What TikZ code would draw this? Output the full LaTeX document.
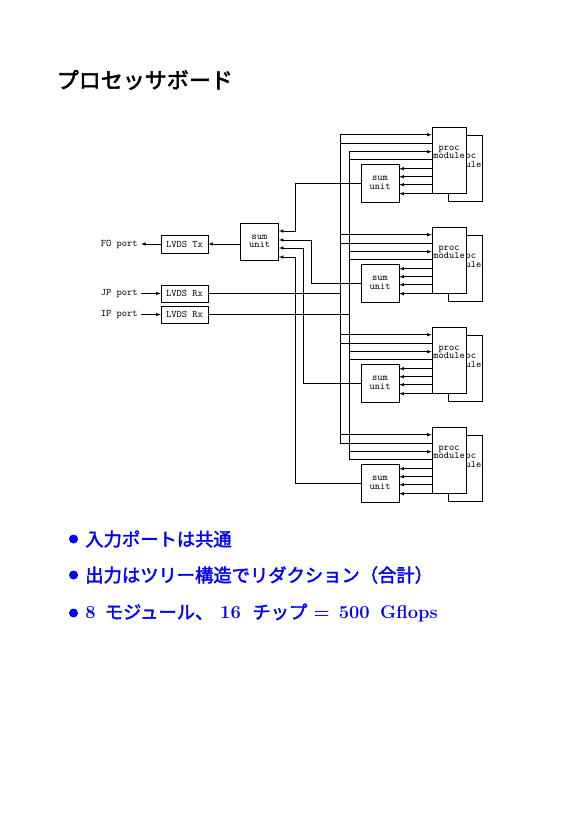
\documentclass[tikz,border=0pt]{standalone}
\usepackage{fontspec}
\usetikzlibrary{calc}
\newfontfamily\jpfont[FakeBold=2]{Noto Sans CJK JP}
\newfontfamily\jptitle[FakeBold=2.5]{Noto Sans CJK JP}
\newcommand\dgfont{\ttfamily\fontsize{10}{8.5}\selectfont}
\newcommand\lat[1]{{\normalfont\bfseries #1}}

\tikzset{
  box/.style={draw, fill=white, inner sep=0pt, align=center, font=\dgfont},
  procbox/.style={box, minimum width=34pt, minimum height=66pt},
  sumbox/.style={box, minimum width=38pt, minimum height=38pt},
  lvdsbox/.style={box, minimum width=47pt, minimum height=17pt},
  lbl/.style={inner sep=0pt, align=center, font=\dgfont},
  port/.style={inner sep=0pt, inner xsep=3pt, anchor=east, font=\dgfont},
  dot/.style={circle, fill=blue, inner sep=0pt, minimum size=9pt},
  item/.style={anchor=west, inner sep=0pt, text=blue, font=\jpfont\fontsize{18.3}{18.3}\selectfont},
}

\begin{document}
\begin{tikzpicture}[x=1pt, y=-1pt, line width=0.6pt]
	\useasboundingbox (0,0) rectangle (579,819);

	% title
	\node[anchor=west, inner sep=0pt, font=\jptitle\fontsize{22}{22}\selectfont] (title) at (56.5,80) {プロセッサボード};

	% board: central sum unit and LVDS links
	\node[sumbox, minimum height=37pt] (sc) at (259.5,241.5) {sum\\unit};
	\node[lvdsbox, minimum height=18pt] (tx) at (184.5,244) {LVDS Tx};
	\node[lvdsbox] (rxjp) at (184.5,293.5) {LVDS Rx};
	\node[lvdsbox] (rxip) at (184.5,314.5) {LVDS Rx};
	\node[port] (fo) at (141,244) {FO port};
	\node[port] (jp) at (141,293.5) {JP port};
	\node[port] (ip) at (141,314.5) {IP port};

	\draw[-latex] (sc.west |- tx.east) -- (tx.east);
	\draw[-latex] (tx.west) -- (fo.east);
	\draw[-latex] (jp.east) -- (rxjp.west);
	\draw[-latex] (ip.east) -- (rxip.west);

	% input buses
	\coordinate (busJ) at (340,135);
	\coordinate (busJend) at (340,444);
	\coordinate (busI) at (349,152);
	\coordinate (busIend) at (349,460);
	\draw (busJ) -- (busJend);
	\draw (busI) -- (busIend);
	\draw (rxjp.east) -- (rxjp.east -| busJ);
	\draw (rxip.east) -- (rxip.east -| busI);

	% processor modules, two chips each
	\foreach \i/\T in {1/127,2/227,3/327,4/427} {
		\node[procbox] (q\i) at (465.5,\T+41.5) {};
		\node[lbl] (ql\i) at (465.5,\T+34) {proc\\module};
		\node[procbox] (p\i) at (449,\T+33) {};
		\node[lbl] (pl\i) at (449,\T+25.5) {proc\\module};
		\node[sumbox] (s\i) at (380,\T+56) {sum\\unit};

		\coordinate (a1) at ($(p\i.north west)+(0,8)$);
		\coordinate (a2) at ($(p\i.north west)+(0,17)$);
		\coordinate (a3) at ($(p\i.north west)+(0,25)$);
		\coordinate (a4) at ($(p\i.north west)+(0,33)$);
		\draw[latex-] (a1) -- (a1 -| busJ);
		\draw (a2) -- (a2 -| busJ);
		\draw[latex-] (a3) -- (a3 -| busI);
		\draw (a4) -- (a4 -| busI);

		\foreach \dy in {42,50,58,67} {
			\coordinate (o) at ($(p\i.north west)+(0,\dy)$);
			\draw[-latex] (o) -- (o -| s\i.east);
		}
	}

	% reduction tree
	\coordinate (j1) at (295,231);
	\coordinate (j2) at (311,240);
	\coordinate (j3) at (303,248);
	\coordinate (j4) at (295,257);
	\foreach \i in {1,...,4}
		\draw[-latex] (s\i.west) -| (j\i) -- (j\i -| sc.east);

	% notes
	\node[dot] (d1) at (73.5,539) {};
	\node[dot] (d2) at (73.5,575) {};
	\node[dot] (d3) at (73.5,613) {};
	\node[item] (t1) at (85,539) {入力ポートは共通};
	\node[item] (t2) at (85,575) {出力はツリー構造でリダクション（合計）};
	\node[item] (t3) at (85,613) {\lat{8}\hspace{9.2pt}モジュール、\hspace{6.9pt}\lat{16}\hspace{11.6pt}チップ\hspace{6.2pt}\lat{=}\hspace{9.3pt}\lat{500}\hspace{10.5pt}\lat{Gflops}};
\end{tikzpicture}
\end{document}
